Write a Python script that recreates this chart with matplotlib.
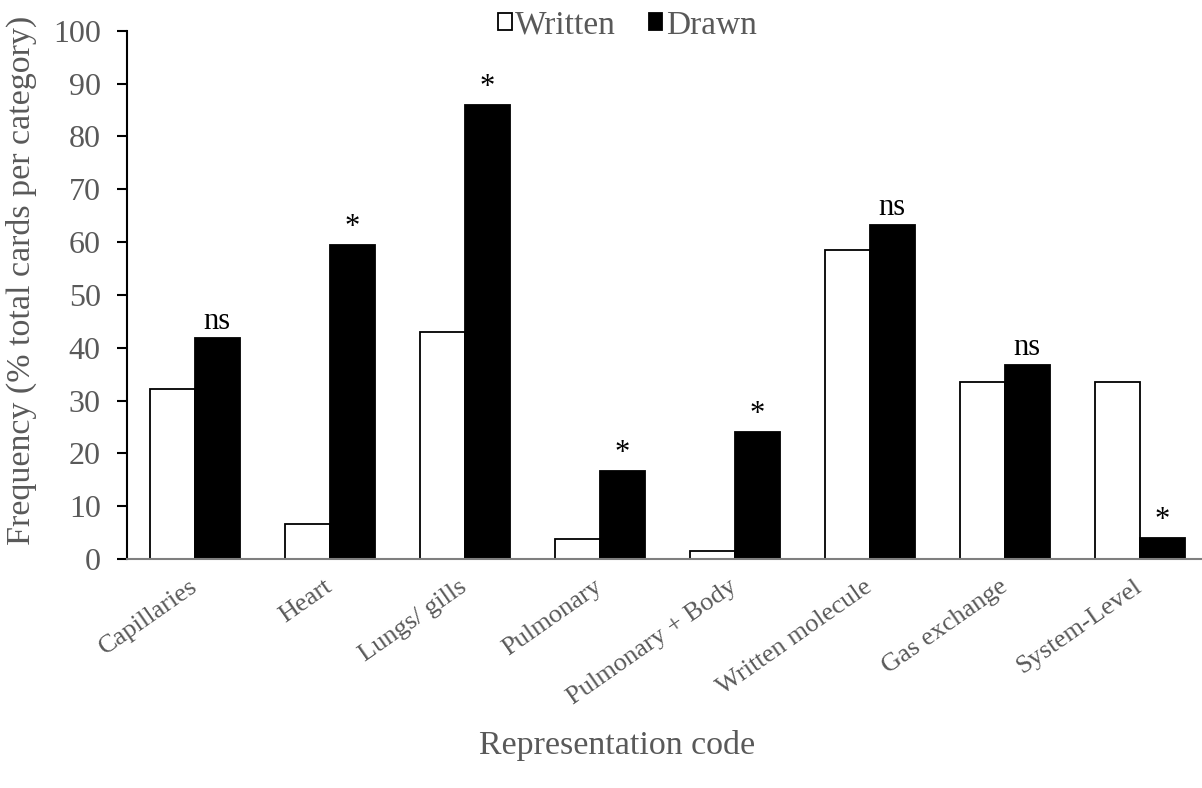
import matplotlib.pyplot as plt
import matplotlib.transforms as mtransforms
import numpy as np
from matplotlib.patches import Patch

plt.rcParams["font.family"] = ["Liberation Serif", "DejaVu Serif"]

# --- Data ---
categories = ["Capillaries", "Heart", "Lungs/ gills", "Pulmonary", "Pulmonary + Body",
              "Written molecule", "Gas exchange", "System-Level"]
written = [32.2, 6.6, 43.0, 3.7, 1.5, 58.4, 33.6, 33.6]
drawn = [41.9, 59.5, 86.0, 16.6, 24.0, 63.3, 36.8, 3.9]
marks = ["ns", "*", "*", "*", "*", "ns", "ns", "*"]

gray = "#595959"

fig = plt.figure(figsize=(12.02, 7.88), dpi=100)
ax = fig.add_axes([0.1057, 0.2906, 0.8985, 0.6704])

x = np.arange(len(categories))
w = 1 / 3
ax.bar(x - w / 2, written, width=w, facecolor="white", edgecolor="black", linewidth=1.3)
ax.bar(x + w / 2, drawn, width=w, facecolor="black", edgecolor="black", linewidth=1.3)

for xi, d, m in zip(x, drawn, marks):
    off = 0.6 if m == "*" else 0.4
    ax.text(xi + w / 2, d + off, m, ha="center", va="bottom", fontsize=22, color="black")

ax.set_xlim(-0.5, 7.5)
ax.set_ylim(0, 100)
ax.set_yticks(range(0, 101, 10))
ax.tick_params(axis="y", labelsize=23, labelcolor=gray, length=7, width=1.5,
               direction="out", pad=12)
ax.set_xticks(x)
ax.set_xticklabels(categories, rotation=35, ha="right", rotation_mode="anchor",
                   fontsize=19, color=gray)
ax.tick_params(axis="x", length=0, pad=12)
# nudge x labels a little to the left
shift = mtransforms.ScaledTranslation(-6 / 100, 0, fig.dpi_scale_trans)
for lbl in ax.get_xticklabels():
    lbl.set_transform(lbl.get_transform() + shift)

for s in ["top", "right"]:
    ax.spines[s].set_visible(False)
ax.spines["left"].set_linewidth(1.5)
ax.spines["bottom"].set_color("#7f7f7f")
ax.spines["bottom"].set_linewidth(1.5)

ax.set_ylabel("Frequency (% total cards per category)", fontsize=24.5, color=gray)
ax.yaxis.set_label_coords(-0.083, 0.527)
fig.text(0.513, 0.054, "Representation code", ha="center", va="center", fontsize=24.5, color=gray)

handles = [Patch(facecolor="white", edgecolor="black", linewidth=1.3),
           Patch(facecolor="black", edgecolor="black", linewidth=1.3)]
leg = fig.legend(handles, ["Written", "Drawn"], loc="upper center", bbox_to_anchor=(0.522, 1.025),
                 ncol=2, frameon=False, fontsize=24, handlelength=0.4, handleheight=0.4,
                 handletextpad=0.1, columnspacing=1.0)
for t in leg.get_texts():
    t.set_color(gray)

fig.savefig("out.png", dpi=100)
